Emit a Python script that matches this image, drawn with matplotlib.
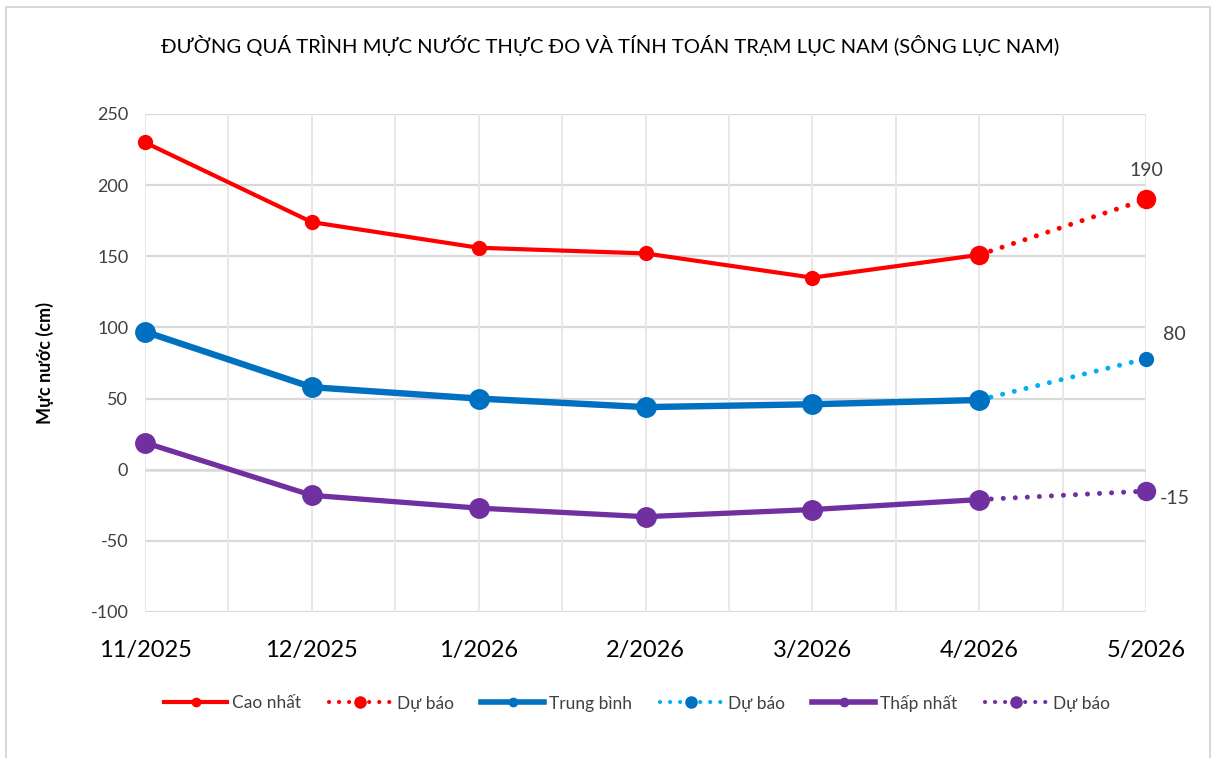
import matplotlib
matplotlib.use("Agg")
import matplotlib.pyplot as plt
from matplotlib.patches import Rectangle
from matplotlib.lines import Line2D

# data
months = ["11/2025", "12/2025", "1/2026", "2/2026", "3/2026", "4/2026", "5/2026"]
cao_nhat = [230, 174, 156, 152, 135, 151]
trung_binh = [97, 58, 50, 44, 46, 49]
thap_nhat = [19, -18, -27, -33, -28, -21]
# forecast for the last month
du_bao_cao = 190
du_bao_tb = 78
du_bao_thap = -15
du_bao_labels = ["190", "80", "-15"]

plt.rcParams['font.family'] = ['Lato', 'DejaVu Sans']
plt.rcParams['axes.unicode_minus'] = False

RED = "#FF0000"
BLUE = "#0070C0"
LBLUE = "#00B0F0"
PURPLE = "#7030A0"
GRID = "#D9D9D9"
TXT = "#404040"

fig = plt.figure(figsize=(12.16, 7.58), dpi=100)
ax = fig.add_axes([145 / 1216, 1 - 612 / 758, 1001 / 1216, 498 / 758])

x = list(range(len(months)))
n = len(cao_nhat)
dot = (0, (0.01, 2.4))

# forecast segments (drawn first so the main markers sit on top)
ax.plot([x[n - 1], x[n]], [cao_nhat[-1], du_bao_cao], color=RED, lw=3.6, ls=dot,
        dash_capstyle='round', marker='o', ms=13, zorder=3, clip_on=False)
ax.plot([x[n - 1], x[n]], [trung_binh[-1], du_bao_tb], color=LBLUE, lw=3.6, ls=dot,
        dash_capstyle='round', zorder=3, clip_on=False)
ax.plot([x[n]], [du_bao_tb], color=BLUE, marker='o', ms=10, ls='none', zorder=4, clip_on=False)
ax.plot([x[n - 1], x[n]], [thap_nhat[-1], du_bao_thap], color=PURPLE, lw=3.6, ls=dot,
        dash_capstyle='round', marker='o', ms=13, zorder=3, clip_on=False)

ax.plot(x[:n], cao_nhat, color=RED, lw=3.0, marker='o', ms=10, zorder=5, clip_on=False)
ax.plot(x[:n], trung_binh, color=BLUE, lw=4.6, marker='o', ms=14, zorder=5, clip_on=False)
ax.plot(x[:n], thap_nhat, color=PURPLE, lw=3.8, marker='o', ms=14, zorder=5, clip_on=False)

# labels on the forecast points
ax.annotate(du_bao_labels[0], (x[n], du_bao_cao), xytext=(0, 15), textcoords='offset points',
            ha='center', va='bottom', fontsize=14, color=TXT)
ax.annotate(du_bao_labels[1], (x[n], du_bao_tb), xytext=(12, 11), textcoords='offset points',
            ha='left', va='bottom', fontsize=14, color=TXT)
ax.annotate(du_bao_labels[2], (x[n], du_bao_thap), xytext=(10, -5), textcoords='offset points',
            ha='left', va='center', fontsize=14, color=TXT)

ax.set_xlim(0, 6)
ax.set_ylim(-100, 250)
ax.set_yticks(range(-100, 251, 50))
ax.set_xticks(x)
ax.set_xticklabels(months, fontsize=17, color="#000000")
ax.tick_params(axis='x', length=0, pad=20)
ax.tick_params(axis='y', length=0, labelsize=13, labelcolor=TXT, pad=12)

for v in range(-100, 251, 50):
    ax.axhline(v, color=GRID, lw=1.6, zorder=1)
for i in range(13):
    ax.axvline(i * 0.5, color="#E8E8E8", lw=1.4, zorder=1)
ax.axhline(0, color=GRID, lw=1.8, zorder=1)
for s in ax.spines.values():
    s.set_visible(False)

ax.set_ylabel("Mực nước (cm)", fontsize=13, fontweight='bold', color="#000000", labelpad=26)

fig.text(610 / 1216, 1 - 45 / 758, "ĐƯỜNG QUÁ TRÌNH MỰC NƯỚC THỰC ĐO VÀ TÍNH TOÁN TRẠM LỤC NAM (SÔNG LỤC NAM)",
         ha='center', va='center', fontsize=14.6, color="#000000")

handles = [
    Line2D([], [], color=RED, lw=3.0, marker='o', ms=6),
    Line2D([], [], color=RED, lw=3.0, ls=dot, dash_capstyle='round', marker='o', ms=8),
    Line2D([], [], color=BLUE, lw=4.0, marker='o', ms=6),
    Line2D([], [], color=LBLUE, lw=3.0, ls=dot, dash_capstyle='round', marker='o', ms=8,
           markerfacecolor=BLUE, markeredgecolor=BLUE),
    Line2D([], [], color=PURPLE, lw=4.0, marker='o', ms=6),
    Line2D([], [], color=PURPLE, lw=3.0, ls=dot, dash_capstyle='round', marker='o', ms=8),
]
labels = ["Cao nhất", "Dự báo", "Trung bình", "Dự báo", "Thấp nhất", "Dự báo"]
fig.legend(handles, labels, loc='center', bbox_to_anchor=(637 / 1216, 1 - 703 / 758), ncol=6,
           frameon=False, fontsize=12.5, labelcolor=TXT, handlelength=3.6, columnspacing=1.6,
           handletextpad=0.3)

fig.add_artist(Rectangle((6 / 1216, -0.01), 1204 / 1216, 1 - 7 / 758 + 0.01, transform=fig.transFigure,
                         fill=False, edgecolor="#D9D9D9", lw=1.5))

fig.savefig("out.png", dpi=100)
